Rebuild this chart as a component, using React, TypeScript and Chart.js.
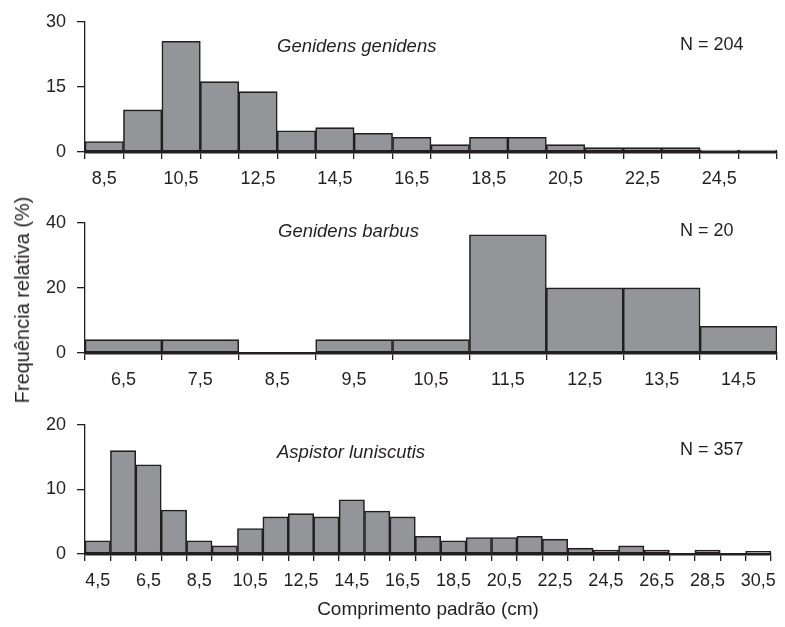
import React, { useEffect, useRef } from "react";
import { Chart, registerables } from "chart.js";

Chart.register(...registerables);

// ---------- DATA ----------
const ggBins = ["8,5", "9,5", "10,5", "11,5", "12,5", "13,5", "14,5", "15,5", "16,5", "17,5", "18,5", "19,5", "20,5", "21,5", "22,5", "23,5", "24,5", "25,5"];
const ggValues = [2.4, 9.7, 25.5, 16.2, 13.9, 4.9, 5.6, 4.3, 3.4, 1.7, 3.4, 3.4, 1.7, 1.0, 1.0, 1.0, 0.45, 0.45];

const gbBins = ["6,5", "7,5", "8,5", "9,5", "10,5", "11,5", "12,5", "13,5", "14,5"];
const gbValues = [4.1, 4.1, 0, 4.1, 4.1, 36.3, 20, 20, 8.2];

const alBins = ["4,5", "5,5", "6,5", "7,5", "8,5", "9,5", "10,5", "11,5", "12,5", "13,5", "14,5", "15,5", "16,5", "17,5", "18,5", "19,5", "20,5", "21,5", "22,5", "23,5", "24,5", "25,5", "26,5", "27,5", "28,5", "29,5", "30,5"];
const alValues = [2.05, 16.0, 13.8, 6.8, 2.05, 1.25, 3.95, 5.75, 6.25, 5.75, 8.4, 6.65, 5.75, 2.75, 2.05, 2.55, 2.55, 2.75, 2.3, 0.9, 0.6, 1.25, 0.6, 0, 0.6, 0, 0.4];

const ggYTicks = { max: 30, step: 15 };
const gbYTicks = { max: 40, step: 20 };
const alYTicks = { max: 20, step: 10 };

const yTitle = "Frequência relativa (%)";
const xTitle = "Comprimento padrão (cm)";

// ---------- STYLE ----------
const FAMILY = "'Liberation Sans', Arial, Helvetica, sans-serif";
const INK = "#231f20";
const FILL = "#939598";

const textPlugin = {
  id: "panelText",
  afterDraw(chart: any, _args: any, opts: any) {
    const ctx = chart.ctx;
    ctx.save();
    ctx.fillStyle = INK;
    ctx.textAlign = "left";
    ctx.textBaseline = "alphabetic";
    ctx.font = `italic 18.5px ${FAMILY}`;
    ctx.fillText(opts.species, opts.sx, opts.sy);
    ctx.font = `18px ${FAMILY}`;
    ctx.fillText(opts.n, opts.nx, opts.ny);
    ctx.restore();
  },
};

type PanelProps = {
  bins: string[];
  values: number[];
  yMax: number;
  yStep: number;
  every: number;
  top: number;
  height: number;
  xHeight: number;
  species: string;
  n: string;
  sx: number;
  sy: number;
  nx: number;
  ny: number;
  showXTitle?: boolean;
};

function Panel(p: PanelProps) {
  const ref = useRef<HTMLCanvasElement>(null);
  useEffect(() => {
    const chart = new Chart(ref.current as HTMLCanvasElement, {
      type: "bar",
      data: {
        labels: p.bins,
        datasets: [
          {
            data: p.values,
            backgroundColor: FILL,
            borderColor: INK,
            borderWidth: 1.6,
            borderSkipped: false,
            barPercentage: 1,
            categoryPercentage: 1,
          },
        ],
      },
      plugins: [textPlugin],
      options: {
        responsive: false,
        maintainAspectRatio: false,
        animation: false,
        layout: { padding: { top: 18, right: 8, left: 0, bottom: 0 } },
        plugins: {
          legend: { display: false },
          tooltip: { enabled: false },
          panelText: { species: p.species, n: p.n, sx: p.sx, sy: p.sy - p.top, nx: p.nx, ny: p.ny - p.top },
        } as any,
        scales: {
          x: {
            type: "category",
            offset: true,
            grid: {
              offset: true,
              drawOnChartArea: false,
              drawTicks: true,
              tickLength: 7,
              color: INK,
              lineWidth: 1.3,
            },
            border: { display: true, color: INK, width: 2.5 },
            ticks: {
              autoSkip: false,
              maxRotation: 0,
              minRotation: 0,
              padding: 9,
              color: INK,
              font: { family: FAMILY, size: 18 },
              callback: (_v: any, i: number) => (i % p.every === 0 ? p.bins[i] : ""),
            },
            title: {
              display: !!p.showXTitle,
              text: xTitle,
              color: INK,
              font: { family: FAMILY, size: 19 },
              padding: { top: 0, bottom: 6 },
            },
            afterFit: (s: any) => {
              s.height = p.xHeight;
            },
          },
          y: {
            min: 0,
            max: p.yMax,
            ticks: {
              stepSize: p.yStep,
              padding: 11,
              color: INK,
              font: { family: FAMILY, size: 18 },
            },
            grid: {
              drawOnChartArea: false,
              drawTicks: true,
              tickLength: 8,
              color: INK,
              lineWidth: 1.3,
            },
            border: { display: true, color: INK, width: 1.3 },
            afterFit: (s: any) => {
              s.width = 85;
            },
          },
        },
      } as any,
    });
    return () => chart.destroy();
  }, []);
  return (
    <canvas
      ref={ref}
      width={785}
      height={p.height}
      style={{ position: "absolute", left: 0, top: p.top, width: 785, height: p.height }}
    />
  );
}

export default function App() {
  return (
    <div
      style={{
        position: "absolute",
        left: 0,
        top: 0,
        width: 785,
        height: 627,
        background: "#fff",
        overflow: "hidden",
      }}
    >
      <Panel
        bins={ggBins}
        values={ggValues}
        yMax={ggYTicks.max}
        yStep={ggYTicks.step}
        every={2}
        top={0}
        height={188}
        xHeight={36}
        species="Genidens genidens"
        n="N = 204"
        sx={277}
        sy={52}
        nx={680}
        ny={49.5}
      />
      <Panel
        bins={gbBins}
        values={gbValues}
        yMax={gbYTicks.max}
        yStep={gbYTicks.step}
        every={1}
        top={201}
        height={188}
        xHeight={36}
        species="Genidens barbus"
        n="N = 20"
        sx={278}
        sy={236.5}
        nx={680}
        ny={236}
      />
      <Panel
        bins={alBins}
        values={alValues}
        yMax={alYTicks.max}
        yStep={alYTicks.step}
        every={2}
        top={403}
        height={224}
        xHeight={73}
        species="Aspistor luniscutis"
        n="N = 357"
        sx={277}
        sy={458}
        nx={680}
        ny={455}
        showXTitle
      />
      <div
        style={{
          position: "absolute",
          left: 22,
          top: 300,
          transform: "translate(-50%, -50%) rotate(-90deg)",
          whiteSpace: "nowrap",
          fontFamily: FAMILY,
          fontSize: 20,
          lineHeight: 1,
          color: INK,
        }}
      >
        {yTitle}
      </div>
    </div>
  );
}
